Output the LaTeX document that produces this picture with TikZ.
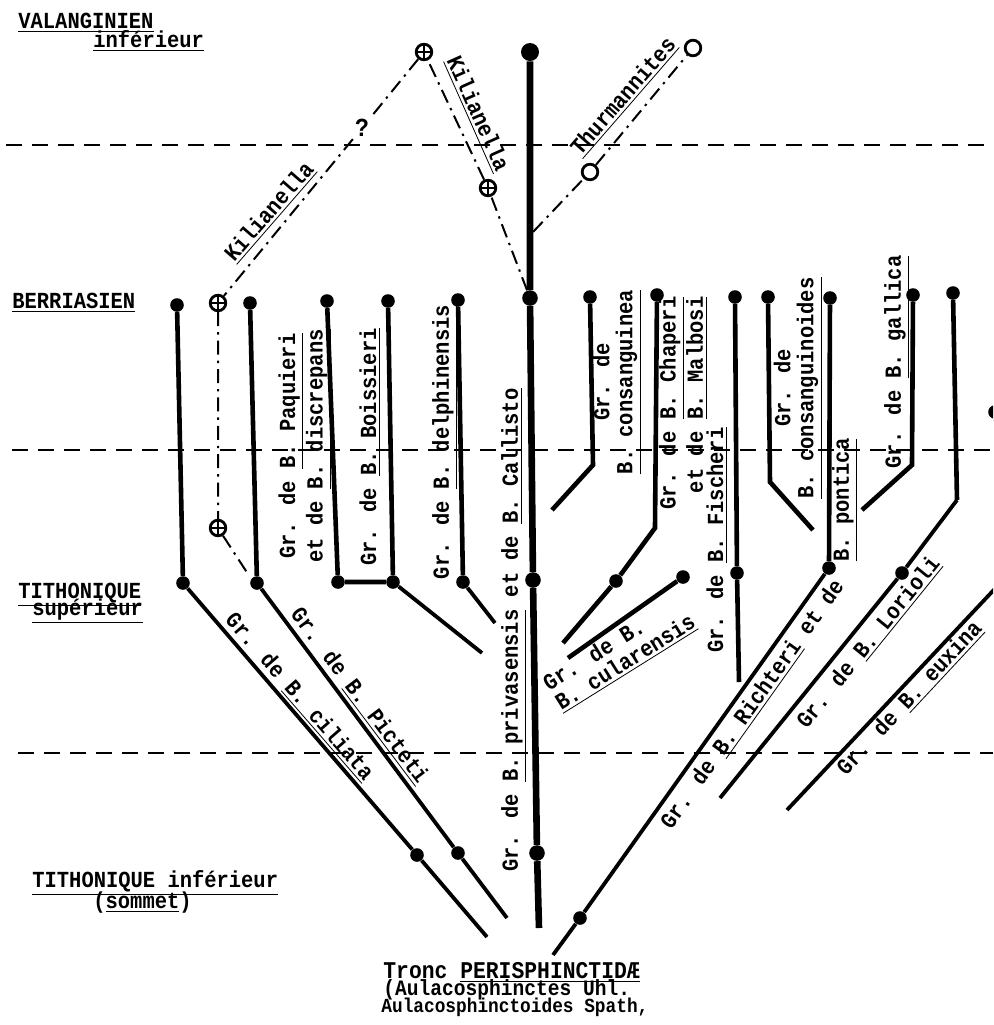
\documentclass[tikz,border=0pt]{standalone}
\usepackage{fontspec}
\newfontfamily\typewfont{Liberation Mono}[FakeStretch=0.89]
\usepackage{tikz}
\usetikzlibrary{positioning}
\newcommand{\typew}{\typewfont\bfseries\fontsize{11.5}{11.5}\selectfont}
\tikzset{
  boundary/.style={line width=1.1pt,dash pattern=on 8pt off 5pt},
  probable/.style={line width=1pt,dash pattern=on 7pt off 3pt on 1.2pt off 3pt},
  lineage/.style={line width=2.3pt},
  branch/.style={line width=1.9pt},
  trunk/.style={line width=3.3pt},
  dot/.style={circle,fill,inner sep=0pt,minimum size=6.8pt},
  bigdot/.style={dot,minimum size=9pt},
  crossdot/.style={circle,draw,fill=white,line width=1.4pt,inner sep=0pt,minimum size=7.8pt,
    path picture={\draw[line width=0.9pt]
      (path picture bounding box.north) -- (path picture bounding box.south)
      (path picture bounding box.west) -- (path picture bounding box.east);}},
  opendot/.style={circle,draw,fill=white,line width=1.4pt,inner sep=0pt,minimum size=7.8pt},
  lbl/.style={font=\typew,inner sep=1pt},
  stagelbl/.style={font=\typew,inner sep=0pt,anchor=base west}
}

\begin{document}
\begin{tikzpicture}[x=0.5pt,y=-0.5pt]
  \useasboundingbox (0,0) rectangle (993,1025);
  \clip (0,0) rectangle (993,1025);

  % stage boundaries
  \draw[boundary] (6,145) -- (993,145);
  \draw[boundary] (12,450) -- (993,450);
  \draw[boundary] (18,753) -- (993,753);

  % stage names
  \node[stagelbl] (valang) at (18,28) {\underline{VALANGINIEN}};
  \node[stagelbl] (valinf) at (93,47) {\underline{inférieur}};
  \node[stagelbl] (berr) at (12,308) {\underline{BERRIASIEN}};
  \node[stagelbl] (tithsup) at (18,598) {\underline{TITHONIQUE}};
  \node[stagelbl] (tithsupb) at (32,615) {\underline{supérieur}};
  \node[stagelbl] (tithinf) at (32,887) {\underline{TITHONIQUE inférieur}};
  \node[stagelbl] (tithinfb) at (93,908) {(\underline{sommet})};

  % trunk
  \node[bigdot] (trTop) at (530,52) {};
  \node[dot,minimum size=7.8pt] (trBer) at (530,298) {};
  \node[dot,minimum size=7.8pt] (trSup) at (533,580) {};
  \node[dot,minimum size=7.8pt] (trInf) at (537,853) {};
  \coordinate (trEnd) at (539,928);
  \draw[trunk] (trTop) -- (trBer) -- (trSup) -- (trInf) -- (trEnd);
  \node[lbl,rotate=90] (privas) at (514,630)
    {Gr. de \underline{B. privasensis} et de \underline{B. Callisto}};

  % Thurmannites
  \coordinate (thBase) at (533,232);
  \node[opendot] (thLow) at (590,172) {};
  \node[opendot] (thHigh) at (693,48) {};
  \draw[probable] (thBase) -- (thLow) -- (thHigh);
  \node[lbl,rotate=49] (thurm) at (624,97) {\underline{Thurmannites}};

  % Kilianella
  \node[crossdot] (kilTop) at (424,52) {};
  \node[crossdot] (kilMid) at (488,188) {};
  \node[crossdot] (kilBer) at (218,303) {};
  \node[crossdot] (kilSup) at (218,528) {};
  \coordinate (kilEnd) at (248,574);
  \node[font=\typewfont\bfseries\fontsize{13}{13}\selectfont,inner sep=1pt] (query) at (362,128) {?};
  \draw[probable] (trBer) -- (kilMid) -- (kilTop) -- (query) -- (kilBer) -- (kilSup) -- (kilEnd);
  \node[lbl,rotate=49] (kilL) at (270,212) {\underline{Kilianella}};
  \node[lbl,rotate=-66] (kilR) at (477,114) {\underline{Kilianella}};

  % B. ciliata
  \node[dot] (cil1) at (177,305) {};
  \node[dot] (cil2) at (183,583) {};
  \node[dot] (cil3) at (417,855) {};
  \coordinate (cil4) at (487,937);
  \draw[lineage] (cil1) -- (cil2);
  \draw[branch] (cil2) -- (cil3) -- (cil4);
  \node[lbl,rotate=-49] (cilLbl) at (299,697) {Gr. de \underline{B. ciliata}};

  % B. Picteti
  \node[dot] (pic1) at (250,303) {};
  \node[dot] (pic2) at (257,583) {};
  \node[dot] (pic3) at (458,853) {};
  \coordinate (pic4) at (507,918);
  \draw[lineage] (pic1) -- (pic2);
  \draw[branch] (pic2) -- (pic3) -- (pic4);
  \node[lbl,rotate=-53] (picLbl) at (359,696) {Gr. de \underline{B. Picteti}};

  % B. Paquieri, B. Boissieri
  \node[dot] (paq1) at (327,301) {};
  \node[dot] (paq2) at (338,582) {};
  \node[dot] (boi1) at (388,301) {};
  \node[dot] (boi2) at (393,582) {};
  \coordinate (boi3) at (482,653);
  \draw[lineage] (paq1) -- (paq2) -- (boi2);
  \draw[lineage] (boi1) -- (boi2);
  \draw[branch] (boi2) -- (boi3);
  \node[lbl,rotate=90,align=center] (paqLbl) at (305,446)
    {Gr. de \underline{B. Paquieri}\\et de \underline{B. discrepans}};
  \node[lbl,rotate=90] (boiLbl) at (370,447) {Gr. de \underline{B. Boissieri}};

  % B. delphinensis
  \node[dot] (del1) at (458,300) {};
  \node[dot] (del2) at (463,582) {};
  \coordinate (del3) at (495,623);
  \draw[lineage] (del1) -- (del2);
  \draw[branch] (del2) -- (del3);
  \node[lbl,rotate=90] (delLbl) at (445,442) {Gr. de \underline{B. delphinensis}};

  % B. consanguinea
  \node[dot] (con1) at (590,297) {};
  \coordinate (con2) at (593,465);
  \coordinate (con3) at (552,510);
  \draw[lineage] (con1) -- (con2) -- (con3);
  \node[lbl,rotate=90,align=center] (conLbl) at (617,382)
    {Gr. de\\\underline{B. consanguinea}};

  % B. Chaperi, B. Malbosi
  \node[dot] (cha1) at (657,295) {};
  \coordinate (cha2) at (655,528);
  \node[dot] (cha3) at (616,581) {};
  \coordinate (cha4) at (563,643);
  \draw[lineage] (cha1) -- (cha2) -- (cha3) -- (cha4);
  \node[lbl,rotate=90,align=right] (chaLbl) at (683,403)
    {Gr. de \underline{B. Chaperi}\\et de \underline{B. Malbosi}};

  % B. cularensis
  \node[dot] (cul1) at (683,577) {};
  \coordinate (cul2) at (568,658);
  \draw[lineage] (cul1) -- (cul2);
  \node[lbl,rotate=32,anchor=west,align=left] (culLbl) at (550,697)
    {Gr. de B.\\\underline{B. cularensis}};

  % B. Fischeri
  \node[dot] (fis1) at (735,297) {};
  \node[dot] (fis2) at (737,573) {};
  \coordinate (fis3) at (739,682);
  \draw[lineage] (fis1) -- (fis2) -- (fis3);
  \node[lbl,rotate=90] (fisLbl) at (717,540) {Gr. de \underline{B. Fischeri}};

  % B. consanguinoides
  \node[dot] (cso1) at (768,297) {};
  \coordinate (cso2) at (770,482);
  \coordinate (cso3) at (813,530);
  \draw[lineage] (cso1) -- (cso2) -- (cso3);
  \node[lbl,rotate=90,align=center] (csoLbl) at (798,388)
    {Gr. de\\\underline{B. consanguinoides}};

  % B. Richteri, B. pontica
  \node[dot] (ric1) at (830,298) {};
  \node[dot] (ric2) at (829,568) {};
  \node[dot] (ric3) at (580,918) {};
  \coordinate (ric4) at (553,955);
  \draw[lineage] (ric1) -- (ric2);
  \draw[branch] (ric2) -- (ric3) -- (ric4);
  \node[lbl,rotate=54.5] (ricLbl) at (753,705) {Gr. de \underline{B. Richteri} et de};
  \node[lbl,rotate=90] (ponLbl) at (845,500) {\underline{B. pontica}};

  % B. gallica
  \node[dot] (gal1) at (913,295) {};
  \coordinate (gal2) at (912,465);
  \coordinate (gal3) at (862,510);
  \draw[lineage] (gal1) -- (gal2) -- (gal3);
  \node[lbl,rotate=90] (galLbl) at (897,362) {Gr. de \underline{B. gallica}};

  % B. Lorioli
  \node[dot] (lor1) at (953,293) {};
  \coordinate (lor2) at (957,500);
  \node[dot] (lor3) at (902,573) {};
  \coordinate (lor4) at (720,798);
  \draw[lineage] (lor1) -- (lor2);
  \draw[branch] (lor2) -- (lor3) -- (lor4);
  \node[lbl,rotate=51] (lorLbl) at (869,643) {Gr. de \underline{B. Lorioli}};

  % B. euxina
  \node[dot] (eux1) at (995,412) {};
  \coordinate (eux2) at (1005,578);
  \coordinate (eux3) at (787,810);
  \draw[lineage] (eux1) -- (eux2);
  \draw[branch] (eux2) -- (eux3);
  \node[lbl,rotate=47] (euxLbl) at (910,699) {Gr. de \underline{B. euxina}};

  % root
  \node[lbl,anchor=base west,font=\typewfont\bfseries\fontsize{12}{12}\selectfont] (tronc) at (381,978)
    {Tronc \underline{PERISPHINCTIDÆ}};
  \node[lbl,anchor=base west,font=\typewfont\bfseries\fontsize{11}{11}\selectfont] (aulac) at (381,995)
    {(Aulacosphinctes Uhl.};
  \node[lbl,anchor=base west,font=\typewfont\bfseries\fontsize{10}{10}\selectfont] (aulacb) at (379,1012)
    {Aulacosphinctoides Spath,};
\end{tikzpicture}
\end{document}
